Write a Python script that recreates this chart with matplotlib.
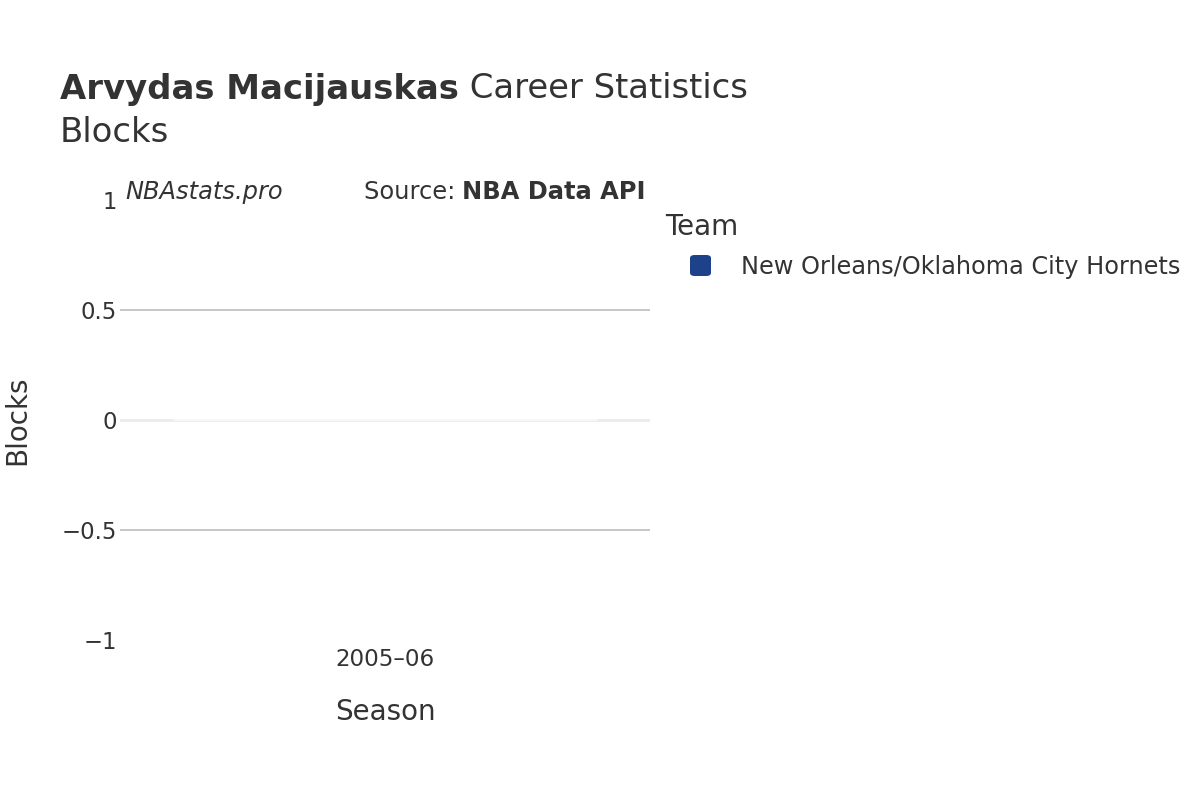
import matplotlib
matplotlib.use("Agg")
import matplotlib.pyplot as plt
from matplotlib.patches import FancyBboxPatch

seasons = ["2005–06"]
blocks = [0]
team = "New Orleans/Oklahoma City Hornets"
team_color = "#1d428a"
yticks = [-1, -0.5, 0, 0.5, 1]
ytick_labels = ["−1", "−0.5", "0", "0.5", "1"]

TXT = "#333333"
plt.rcParams['font.family'] = ['DejaVu Sans']

fig = plt.figure(figsize=(12, 8), dpi=100)
ax = fig.add_axes([0.1, 0.2, 530/1200, 0.55])

x = list(range(len(seasons)))
ax.bar(x, blocks, width=0.8, color=team_color, edgecolor="#f7f7f7", linewidth=1.5, zorder=3)
ax.set_xlim(-0.5, len(seasons) - 0.5)
ax.set_ylim(-1, 1)

for v in yticks:
    if v == 0:
        ax.axhline(v, color="#ebebeb", linewidth=2, zorder=2)
    elif abs(v) < 1:
        ax.axhline(v, color="#bdbdbd", linewidth=1.2, zorder=1)

ax.set_yticks(yticks)
ax.set_yticklabels(ytick_labels, fontsize=16.4, color=TXT)
ax.set_xticks(x)
ax.set_xticklabels(seasons, fontsize=16.6, color=TXT)
ax.tick_params(axis='y', length=0, pad=2)
ax.tick_params(axis='x', length=0, pad=6)
for s in ax.spines.values():
    s.set_visible(False)

ax.set_xlabel("Season", fontsize=20, color=TXT, va="center")
ax.xaxis.set_label_coords((385 - 120) / 530, (640 - 712) / 440)
ax.set_ylabel("Blocks", fontsize=20, color=TXT, va="center")
ax.yaxis.set_label_coords((17 - 120) / 530, 0.5)

# Title
t1 = fig.text(60/1200, 1 - 89/800, "Arvydas Macijauskas", fontsize=24.4, fontweight="bold",
              color=TXT, va="center", ha="left")
fig.canvas.draw()
bb = t1.get_window_extent()
fig.text(bb.x1/1200, 1 - 89/800, " Career Statistics", fontsize=24.4, color=TXT,
         va="center", ha="left")
fig.text(60/1200, 1 - 132/800, "Blocks", fontsize=24.4, color=TXT, va="center", ha="left")

# Annotations
fig.text(125/1200, 1 - 192/800, "NBAstats.pro", fontsize=17.4, style="italic",
         color=TXT, va="center", ha="left")
t2 = fig.text(646/1200, 1 - 192/800, "NBA Data API", fontsize=17.4, fontweight="bold",
              color=TXT, va="center", ha="right")
fig.canvas.draw()
bb2 = t2.get_window_extent()
fig.text(bb2.x0/1200, 1 - 192/800, "Source: ", fontsize=17.4, color=TXT,
         va="center", ha="right")

# Legend
fig.text(665/1200, 1 - 227/800, "Team", fontsize=20, color=TXT, va="center", ha="left")
fig.patches.append(FancyBboxPatch((690/1200, 1 - 276/800), 21/1200, 21/800,
                                  boxstyle="round,pad=0,rounding_size=0.004",
                                  transform=fig.transFigure, facecolor=team_color,
                                  edgecolor="none", figure=fig))
fig.text(741/1200, 1 - 267/800, team, fontsize=17.3, color=TXT, va="center", ha="left")

fig.savefig("out.png", dpi=100, facecolor="white")
